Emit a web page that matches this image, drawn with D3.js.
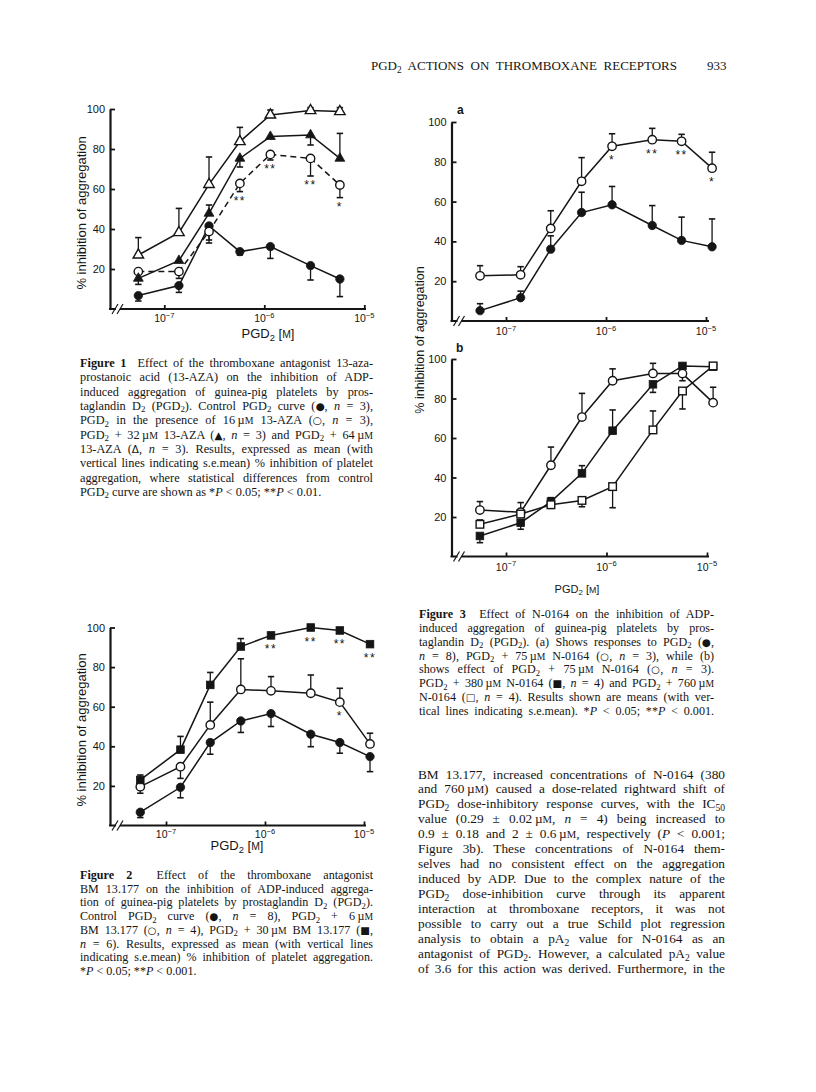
<!DOCTYPE html>
<html>
<head>
<meta charset="utf-8">
<script src="https://cdn.jsdelivr.net/npm/d3@7"></script>
<style>
body { margin: 0; background: #fff; }
</style>
</head>
<body>
<svg id="page" width="816" height="1092"></svg>
<script>
// PGD2 concentrations (M) used in every panel
var doses = [5.5e-8, 1.4e-7, 2.8e-7, 5.7e-7, 1.15e-6, 2.9e-6, 5.7e-6, 1.15e-5];
var yTicks = [20, 40, 60, 80, 100];
var xTicks = [1e-7, 1e-6, 1e-5];
var xTickExp = ['\u22127', '\u22126', '\u22125'];

// Figure 1 : 13-AZA (err = end of the s.e.mean bar)
var fig1Control = [6.7, 11.7, 41.5, 28.7, 31.2, 21.7, 15.0];
var fig1ControlErr = [4.0, 8.3, 33.0, 27.0, 25.3, 14.5, 6.2];
var fig1Aza16 = [18.7, 18.7, 38.7, 62.8, 77.3, 75.3, 62.0];
var fig1Aza16Err = [null, 15.3, 34.5, 58.7, 74.5, 66.5, 55.7];
var fig1Aza16Stars = ['', '', '', '**', '**', '**', '*'];
var fig1Aza32 = [15.3, 24.2, 47.8, 75.3, 86.2, 87.0, 75.3];
var fig1Aza32Err = [12.3, null, 52.0, 71.0, null, 82.0, 87.8];
var fig1Aza64 = [27.0, 38.2, 62.3, 83.7, 97.0, 99.2, 98.7];
var fig1Aza64Err = [35.7, 50.3, 76.0, 90.8, 99.5, 100.7, 100.7];

// Figure 2 : BM 13.177
var fig2Control = [6.7, 19.3, 41.9, 52.8, 56.5, 46.1, 41.9, 34.8];
var fig2ControlErr = [4.0, 14.0, 36.0, 47.0, 50.0, 39.8, 36.5, 27.2];
var fig2Bm6 = [19.6, 29.7, 50.8, 68.7, 68.0, 66.8, 62.3, 41.2];
var fig2Bm6Err = [16.3, 23.8, 62.3, 84.2, 75.2, 76.0, 69.3, 46.6];
var fig2Bm6Stars = ['', '', '', '', '', '', '*', ''];
var fig2Bm30 = [23.0, 38.3, 71.0, 90.4, 96.0, 100.0, 98.5, 91.6];
var fig2Bm30Err = [25.5, 45.0, 77.3, 94.4, null, null, null, null];
var fig2Bm30Stars = ['', '', '', '', '**', '**', '**', '**'];

// Figure 3a : N-0164
var fig3aControl = [5.2, 11.7, 36.1, 54.5, 58.4, 48.0, 40.5, 37.3];
var fig3aControlErr = [8.7, 15.0, 42.8, 64.7, 67.6, 58.0, 52.2, 51.3];
var fig3aN75 = [22.7, 23.2, 46.5, 70.2, 87.8, 91.1, 90.3, 76.8];
var fig3aN75Err = [27.8, 27.3, 55.4, 82.1, 94.1, 96.8, 93.8, 84.8];
var fig3aN75Stars = ['', '', '', '', '*', '**', '**', '*'];

// Figure 3b
var fig3bN75 = [23.5, 22.4, 46.2, 70.6, 89.0, 92.7, 92.6, 77.9];
var fig3bN75Err = [27.8, 27.3, 55.4, 82.6, 95.0, 97.8, 89.0, 85.7];
var fig3bN380 = [10.4, 17.1, 27.8, 42.1, 63.7, 87.2, 96.5, 96.1];
var fig3bN380Err = [7.0, 13.8, 29.8, 46.0, 74.2, 83.1, null, 97.5];
var fig3bN760 = [16.3, 21.5, 26.2, 28.4, 35.4, 64.1, 83.8, 96.5];
var fig3bN760Err = [18.5, null, 24.4, 25.2, 24.7, 73.7, 74.7, 97.8];

// page text
var header = 'PGD<sub>2</sub> ACTIONS ON THROMBOXANE RECEPTORS';
var pageNo = '933';

var capFig1 = [
  '<b>Figure 1</b>  Effect of the thromboxane antagonist 13-aza-',
  'prostanoic acid (13-AZA) on the inhibition of ADP-',
  'induced aggregation of guinea-pig platelets by pros-',
  'taglandin D<sub>2</sub> (PGD<sub>2</sub>). Control PGD<sub>2</sub> curve (<y>\u25CF</y>, <i>n</i> = 3),',
  'PGD<sub>2</sub> in the presence of 16\u2009\u00B5<sc>M</sc> 13-AZA (<y>\u25CB</y>, <i>n</i> = 3),',
  'PGD<sub>2</sub> + 32\u2009\u00B5<sc>M</sc> 13-AZA (<y>\u25B2</y>, <i>n</i> = 3) and PGD<sub>2</sub> + 64\u2009\u00B5<sc>M</sc>',
  '13-AZA (<y>\u0394</y>, <i>n</i> = 3). Results, expressed as mean (with',
  'vertical lines indicating s.e.mean) % inhibition of platelet',
  'aggregation, where statistical differences from control',
  'PGD<sub>2</sub> curve are shown as *<i>P</i> < 0.05; **<i>P</i> < 0.01.'
];

var capFig3 = [
  '<b>Figure 3</b>  Effect of N-0164 on the inhibition of ADP-',
  'induced aggregation of guinea-pig platelets by pros-',
  'taglandin D<sub>2</sub> (PGD<sub>2</sub>). (a) Shows responses to PGD<sub>2</sub> (<y>\u25CF</y>,',
  '<i>n</i> = 8), PGD<sub>2</sub> + 75\u2009\u00B5<sc>M</sc> N-0164 (<y>\u25CB</y>, <i>n</i> = 3), while (b)',
  'shows effect of PGD<sub>2</sub> + 75\u2009\u00B5<sc>M</sc> N-0164 (<y>\u25CB</y>, <i>n</i> = 3).',
  'PGD<sub>2</sub> + 380\u2009\u00B5<sc>M</sc> N-0164 (<y>\u25A0</y>, <i>n</i> = 4) and PGD<sub>2</sub> + 760\u2009\u00B5<sc>M</sc>',
  'N-0164 (<y>\u25A1</y>, <i>n</i> = 4). Results shown are means (with ver-',
  'tical lines indicating s.e.mean). *<i>P</i> < 0.05; **<i>P</i> < 0.001.'
];

var capFig2 = [
  '<b>Figure 2</b>  Effect of the thromboxane antagonist',
  'BM 13.177 on the inhibition of ADP-induced aggrega-',
  'tion of guinea-pig platelets by prostaglandin D<sub>2</sub> (PGD<sub>2</sub>).',
  'Control PGD<sub>2</sub> curve (<y>\u25CF</y>, <i>n</i> = 8), PGD<sub>2</sub> + 6\u2009\u00B5<sc>M</sc>',
  'BM 13.177 (<y>\u25CB</y>, <i>n</i> = 4), PGD<sub>2</sub> + 30\u2009\u00B5<sc>M</sc> BM 13.177 (<y>\u25A0</y>,',
  '<i>n</i> = 6). Results, expressed as mean (with vertical lines',
  'indicating s.e.mean) % inhibition of platelet aggregation.',
  '*<i>P</i> < 0.05; **<i>P</i> < 0.001.'
];

var bodyText = [
  'BM 13.177, increased concentrations of N-0164 (380',
  'and 760\u2009\u00B5<sc>M</sc>) caused a dose-related rightward shift of',
  'PGD<sub>2</sub> dose-inhibitory response curves, with the IC<sub>50</sub>',
  'value (0.29 \u00B1 0.02\u2009\u00B5<sc>M</sc>, <i>n</i> = 4) being increased to',
  '0.9 \u00B1 0.18 and 2 \u00B1 0.6\u2009\u00B5<sc>M</sc>, respectively (<i>P</i> < 0.001;',
  'Figure 3b). These concentrations of N-0164 them-',
  'selves had no consistent effect on the aggregation',
  'induced by ADP. Due to the complex nature of the',
  'PGD<sub>2</sub> dose-inhibition curve through its apparent',
  'interaction at thromboxane receptors, it was not',
  'possible to carry out a true Schild plot regression',
  'analysis to obtain a pA<sub>2</sub> value for N-0164 as an',
  'antagonist of PGD<sub>2</sub>. However, a calculated pA<sub>2</sub> value',
  'of 3.6 for this action was derived. Furthermore, in the'
];

var serif = '"Liberation Serif", "DejaVu Serif", serif';
var sans = '"Liberation Sans", Arial, sans-serif';
var ink = '#151515';

var svg = d3.select('#page');

// small markup: <b> <i> <sub> <sup> <sc> <y> (symbol)
function addRich(t, markup, fs) {
  var parts = markup.split(/(<\/?(?:b|i|sub|sup|sc|y)>)/);
  var st = {b: false, i: false, sub: false, sup: false, sc: false, y: false};
  var cur = 0;
  parts.forEach(function(p) {
    if (!p) return;
    var m = p.match(/^<(\/?)(b|i|sub|sup|sc|y)>$/);
    if (m) { st[m[2]] = !m[1]; return; }
    var off = st.sub ? 0.2 * fs : (st.sup ? -0.42 * fs : 0);
    var size = (st.sub || st.sup) ? 0.72 * fs : (st.sc ? 0.8 * fs : (st.y ? 0.85 * fs : fs));
    var ts = t.append('tspan').text(p).attr('font-size', size);
    if (off != cur) ts.attr('dy', off - cur);
    cur = off;
    if (st.b) ts.attr('font-weight', 'bold');
    if (st.i) ts.attr('font-style', 'italic');
    if (st.y) ts.attr('font-family', '"DejaVu Sans", sans-serif');
  });
}

// justify a line by widening the word spaces
function justify(t, width) {
  var node = t.node();
  var natural = node.getComputedTextLength();
  var spaces = node.textContent.split(' ').length - 1;
  if (natural < width && spaces > 0) {
    t.attr('word-spacing', (width - natural) / spaces);
  } else {
    t.attr('textLength', width).attr('lengthAdjust', 'spacing');
  }
}

function textBlock(lines, o) {
  lines.forEach(function(line, i) {
    var t = svg.append('text')
      .attr('x', o.x).attr('y', o.y + i * o.lh)
      .attr('font-family', serif).attr('font-size', o.size)
      .attr('fill', ink)
      .style('white-space', 'pre');
    addRich(t, line, o.size);
    var last = (i == lines.length - 1) && !o.justifyLast;
    if (!last) justify(t, o.width);
  });
}

function marker(g, kind, px, py) {
  var filled = kind.indexOf('filled') == 0;
  var el;
  if (kind.indexOf('Circle') > 0) {
    el = g.append('circle').attr('cx', px).attr('cy', py).attr('r', 4.2);
  } else if (kind.indexOf('Sq') > 0) {
    el = g.append('rect').attr('x', px - 3.8).attr('y', py - 3.8).attr('width', 7.6).attr('height', 7.6);
  } else {
    el = g.append('path').attr('transform', 'translate(' + px + ',' + py + ')')
      .attr('d', d3.symbol().type(d3.symbolTriangle).size(filled ? 42 : 48)());
  }
  el.attr('fill', filled ? ink : '#fff').attr('stroke', ink).attr('stroke-width', filled ? 0.8 : 1.4);
}

function panel(o) {
  var x = d3.scaleLog().domain([1e-7, 1e-5]).range([o.x7, o.x5]);
  var y = d3.scaleLinear().domain([0, 100]).range([o.y0, o.y100]);
  var g = svg.append('g');

  // y axis, ticks pointing inward
  var ya = g.append('g').attr('transform', 'translate(' + o.left + ',0)')
    .call(d3.axisLeft(y).tickValues(yTicks).tickSizeInner(-5).tickSizeOuter(0).tickPadding(5));
  ya.select('.domain').attr('stroke', ink).attr('stroke-width', 2.2);
  ya.selectAll('.tick line').attr('stroke', ink).attr('stroke-width', 1.8);
  ya.selectAll('.tick text').attr('font-family', sans).attr('font-size', 11).attr('fill', ink);

  // x axis line with break
  g.append('line').attr('x1', o.left - 1).attr('x2', o.xEnd).attr('y1', o.y0).attr('y2', o.y0)
    .attr('stroke', ink).attr('stroke-width', 2.2);
  var bx = o.left + 7;
  g.append('rect').attr('x', bx - 1).attr('y', o.y0 - 2).attr('width', 4).attr('height', 4).attr('fill', '#fff');
  [bx - 2, bx + 3].forEach(function(b) {
    g.append('line').attr('x1', b - 3).attr('y1', o.y0 + 5).attr('x2', b + 3).attr('y2', o.y0 - 5)
      .attr('stroke', ink).attr('stroke-width', 1.2);
  });
  var xa = g.append('g').attr('transform', 'translate(0,' + o.y0 + ')')
    .call(d3.axisBottom(x).tickValues(xTicks).tickSizeInner(-4).tickSizeOuter(0).tickFormat(''));
  xa.select('.domain').remove();
  xa.selectAll('.tick text').remove();
  xa.selectAll('.tick line').attr('stroke', ink).attr('stroke-width', 1.8);
  g.selectAll('text.xt').data(xTicks).join('text').attr('class', 'xt')
    .attr('x', function(d) { return x(d); }).attr('y', o.y0 + o.tickDy)
    .attr('text-anchor', 'middle').attr('font-family', sans).attr('fill', ink)
    .each(function(d, i) { addRich(d3.select(this), '10<sup>' + xTickExp[i] + '</sup>', 10.5); });

  // axis titles
  if (o.xTitle) {
    var xt = g.append('text').attr('x', o.xTitle[0]).attr('y', o.xTitle[1]).attr('text-anchor', 'middle')
      .attr('font-family', sans).attr('fill', ink);
    addRich(xt, 'PGD<sub>2</sub> [<sc>M</sc>]', o.xTitle[2]);
  }
  if (o.yTitle) {
    g.append('text').attr('transform', 'translate(' + o.yTitle[0] + ',' + o.yTitle[1] + ') rotate(-90)')
      .attr('text-anchor', 'middle').attr('font-family', sans).attr('font-size', o.yTitle[2]).attr('fill', ink)
      .text('% inhibition of aggregation');
  }
  if (o.letter) {
    g.append('text').attr('x', o.letter[1]).attr('y', o.letter[2]).attr('font-family', sans)
      .attr('font-weight', 'bold').attr('font-size', 12).attr('fill', ink).text(o.letter[0]);
  }

  var all = o.series.map(function(s) {
    return s.values.map(function(v, i) {
      return {x: x(doses[i]), y: y(v), e: s.err[i] == null ? null : y(s.err[i]),
              star: s.stars ? s.stars[i] : ''};
    });
  });

  var line = d3.line().x(function(d) { return d.x; }).y(function(d) { return d.y; });
  o.series.forEach(function(s, k) {
    g.append('path').datum(all[k]).attr('d', line).attr('fill', 'none')
      .attr('stroke', ink).attr('stroke-width', 1.5)
      .attr('stroke-dasharray', s.dashed ? '6,4' : null);
  });
  o.series.forEach(function(s, k) {
    all[k].forEach(function(p) {
      if (p.e == null) return;
      g.append('line').attr('x1', p.x).attr('x2', p.x).attr('y1', p.y).attr('y2', p.e)
        .attr('stroke', ink).attr('stroke-width', 1.3);
      g.append('line').attr('x1', p.x - 3.2).attr('x2', p.x + 3.2).attr('y1', p.e).attr('y2', p.e)
        .attr('stroke', ink).attr('stroke-width', 1.6);
    });
  });
  o.series.forEach(function(s, k) {
    all[k].forEach(function(p) { marker(g, s.marker, p.x, p.y); });
  });
  o.series.forEach(function(s, k) {
    all[k].forEach(function(p) {
      if (!p.star) return;
      var low = Math.max(p.y + 5, p.e != null && p.e > p.y ? p.e : 0);
      g.append('text').attr('x', p.x).attr('y', low + 13).attr('text-anchor', 'middle')
        .attr('font-family', sans).attr('font-size', 12).attr('letter-spacing', 1.5)
        .attr('fill', ink).text(p.star);
    });
  });
}

// ---- header
var h = svg.append('text').attr('x', 371).attr('y', 70).attr('font-family', serif)
  .attr('font-size', 13).attr('fill', ink).style('white-space', 'pre');
addRich(h, header, 13);
justify(h, 306);
svg.append('text').attr('x', 707).attr('y', 70).attr('font-family', serif).attr('font-size', 13)
  .attr('fill', ink).text(pageNo);

// ---- Figure 1
panel({
  left: 110, x7: 164.3, x5: 364.3, xEnd: 366, y0: 309, y100: 109, tickDy: 13,
  xTitle: [268, 338, 13], yTitle: [86, 213, 13],
  series: [
    {values: fig1Control, err: fig1ControlErr, marker: 'filledCircle'},
    {values: fig1Aza16, err: fig1Aza16Err, stars: fig1Aza16Stars, marker: 'openCircle', dashed: true},
    {values: fig1Aza32, err: fig1Aza32Err, marker: 'filledTri'},
    {values: fig1Aza64, err: fig1Aza64Err, marker: 'openTri'}
  ]
});

// ---- Figure 3a
panel({
  left: 451.5, x7: 506, x5: 706, xEnd: 709, y0: 321, y100: 122, tickDy: 14,
  letter: ['a', 457, 114], yTitle: [424, 340, 12.5],
  series: [
    {values: fig3aControl, err: fig3aControlErr, marker: 'filledCircle'},
    {values: fig3aN75, err: fig3aN75Err, stars: fig3aN75Stars, marker: 'openCircle'}
  ]
});

// ---- Figure 3b
panel({
  left: 451.5, x7: 506, x5: 707, xEnd: 709, y0: 556.5, y100: 359, tickDy: 14,
  letter: ['b', 456, 352], xTitle: [577, 593, 11],
  series: [
    {values: fig3bN75, err: fig3bN75Err, marker: 'openCircle'},
    {values: fig3bN380, err: fig3bN380Err, marker: 'filledSq'},
    {values: fig3bN760, err: fig3bN760Err, marker: 'openSq'}
  ]
});

// ---- Figure 2
panel({
  left: 110, x7: 166, x5: 364, xEnd: 366, y0: 825.5, y100: 627.5, tickDy: 12.5,
  xTitle: [237, 850, 13], yTitle: [86, 730, 13],
  series: [
    {values: fig2Control, err: fig2ControlErr, marker: 'filledCircle'},
    {values: fig2Bm6, err: fig2Bm6Err, stars: fig2Bm6Stars, marker: 'openCircle'},
    {values: fig2Bm30, err: fig2Bm30Err, stars: fig2Bm30Stars, marker: 'filledSq'}
  ]
});

// ---- captions and body
textBlock(capFig1, {x: 80, y: 367, lh: 14.33, size: 12.3, width: 293});
textBlock(capFig3, {x: 419, y: 618, lh: 13.86, size: 12.1, width: 295, justifyLast: true});
textBlock(capFig2, {x: 80, y: 879, lh: 13.7, size: 12.1, width: 293});
textBlock(bodyText, {x: 418, y: 778.5, lh: 14.96, size: 13.3, width: 307, justifyLast: true});
</script>
</body>
</html>
